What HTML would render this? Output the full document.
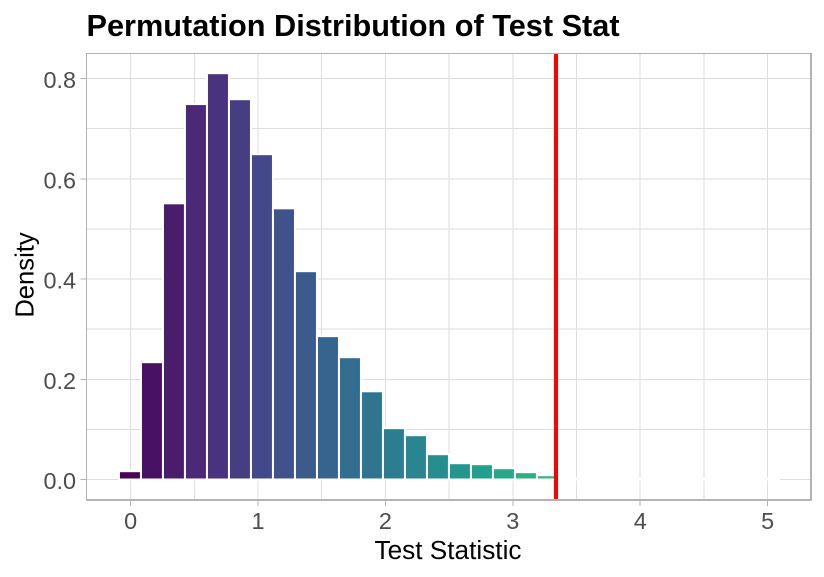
<!DOCTYPE html>
<html lang="en">
<head>
<meta charset="utf-8">
<title>Permutation Distribution of Test Stat</title>
<style>
html,body{margin:0;padding:0;background:#fff;}
svg{display:block;}
text{font-family:"Liberation Sans",Arial,sans-serif;}
</style>
</head>
<body>
<svg id="chart" xmlns="http://www.w3.org/2000/svg" width="824" height="577" viewBox="0 0 824 577">
  <rect x="0" y="0" width="824" height="577" fill="#ffffff"/>
  <text x="86.5" y="36" font-size="30.7" font-weight="700" fill="#000000">Permutation Distribution of Test Stat</text>
  <g id="grid"></g>
  <g id="bars"></g>
  <g id="refline"></g>
  <g fill="#b3b3b3">
    <rect x="86" y="53" width="1" height="448"/>
    <rect x="86" y="53" width="726" height="1"/>
    <rect x="810" y="53" width="2" height="448"/>
    <rect x="86" y="499" width="726" height="2"/>
  </g>
  <g id="xaxis"></g>
  <g id="yaxis"></g>
  <text x="448" y="559" font-size="26.2" text-anchor="middle" fill="#000000">Test Statistic</text>
  <text transform="translate(33.5,275) rotate(-90)" font-size="25.6" text-anchor="middle" fill="#000000">Density</text>
</svg>
<script>
const densities = [0.0166, 0.234, 0.551, 0.749, 0.8106, 0.7587, 0.649, 0.541, 0.4156, 0.286, 0.244, 0.176, 0.1024, 0.0884, 0.0505, 0.0325, 0.0305, 0.0225, 0.0146, 0.0086, 0.002, 0.002, 0.002, 0.002, 0.002, 0.002, 0.002, 0.002, 0.002, 0.002];
const firstBinCenter = -0.005;
const binWidth = 0.17268;
const observedStatistic = 3.339;
const xTicks = [0, 1, 2, 3, 4, 5];
const xTickLabels = ["0", "1", "2", "3", "4", "5"];
const xMinorBreaks = [0.5, 1.5, 2.5, 3.5, 4.5];
const yTicks = [0, 0.2, 0.4, 0.6, 0.8];
const yTickLabels = ["0.0", "0.2", "0.4", "0.6", "0.8"];
const yMinorBreaks = [0.1, 0.3, 0.5, 0.7];

const svgNS = "http://www.w3.org/2000/svg";
const panelLeft = 87, panelRight = 810, panelTop = 54, panelBottom = 499;
function xScale(v) { return 130.6 + 127.4 * v; }
function yScale(v) { return 479.5 - 501.25 * v; }

const palette = ["#440154","#482878","#3E4A89","#31688E","#26828E","#1F9E89","#35B779","#6DCD59","#B4DE2C","#FDE725"];
function viridis(t) {
  const p = t * (palette.length - 1);
  const i = Math.min(Math.floor(p), palette.length - 2);
  const f = p - i;
  const parse = function (h, k) { return parseInt(h.substr(1 + 2 * k, 2), 16); };
  const c = [0, 1, 2].map(function (k) {
    return Math.round(parse(palette[i], k) * (1 - f) + parse(palette[i + 1], k) * f);
  });
  return "rgb(" + c.join(",") + ")";
}
function make(tag, attrs) {
  const el = document.createElementNS(svgNS, tag);
  for (const k in attrs) { el.setAttribute(k, attrs[k]); }
  return el;
}

const grid = document.getElementById("grid");
const barsG = document.getElementById("bars");
const xaxis = document.getElementById("xaxis");
const yaxis = document.getElementById("yaxis");
const refline = document.getElementById("refline");

xTicks.concat(xMinorBreaks).forEach(function (v) {
  const x = xScale(v);
  const el = make("line", { x1: x, x2: x, y1: panelTop, y2: panelBottom, stroke: "#dedede", "stroke-width": 1, "shape-rendering": "crispEdges" });
  
  
  grid.appendChild(el);
});
yTicks.concat(yMinorBreaks).forEach(function (v) {
  const y = yScale(v);
  const el = make("line", { x1: panelLeft, x2: panelRight, y1: y, y2: y, stroke: "#dedede", "stroke-width": 1, "shape-rendering": "crispEdges" });
  
  
  grid.appendChild(el);
});

densities.forEach(function (d, i) {
  const center = firstBinCenter + i * binWidth;
  const x0 = xScale(center - binWidth / 2);
  const x1 = xScale(center + binWidth / 2);
  const yTop = yScale(d);
  const yBase = yScale(0);
  const el = make("rect", {
    x: x0, y: yTop, width: x1 - x0, height: yBase - yTop,
    fill: viridis(i / (densities.length - 1)), "fill-opacity": 0.985, stroke: "#ffffff", "stroke-width": 2
  });
  
  
  barsG.appendChild(el);
});

const obsX = xScale(observedStatistic);
const obsLine = make("line", { x1: obsX, x2: obsX, y1: panelTop, y2: panelBottom, stroke: "#ff0000", "stroke-width": 4 });


refline.appendChild(obsLine);

xTicks.forEach(function (v, i) {
  const x = xScale(v);
  const tick = make("line", { x1: x, x2: x, y1: 501, y2: 506, stroke: "#b3b3b3", "stroke-width": 1, "shape-rendering": "crispEdges" });
  
  
  xaxis.appendChild(tick);
  const label = make("text", { x: x, y: 529, "font-size": 23.4, "text-anchor": "middle", fill: "#4d4d4d" });
  
  
  label.textContent = xTickLabels[i];
  xaxis.appendChild(label);
});
yTicks.forEach(function (v, i) {
  const y = yScale(v);
  const tick = make("line", { x1: 80.5, x2: 86, y1: y, y2: y, stroke: "#b3b3b3", "stroke-width": 1, "shape-rendering": "crispEdges" });
  
  
  yaxis.appendChild(tick);
  const label = make("text", { x: 76, y: y + 9.5, "font-size": 23.4, "text-anchor": "end", fill: "#4d4d4d" });
  
  
  label.textContent = yTickLabels[i];
  yaxis.appendChild(label);
});
</script>
</body>
</html>
